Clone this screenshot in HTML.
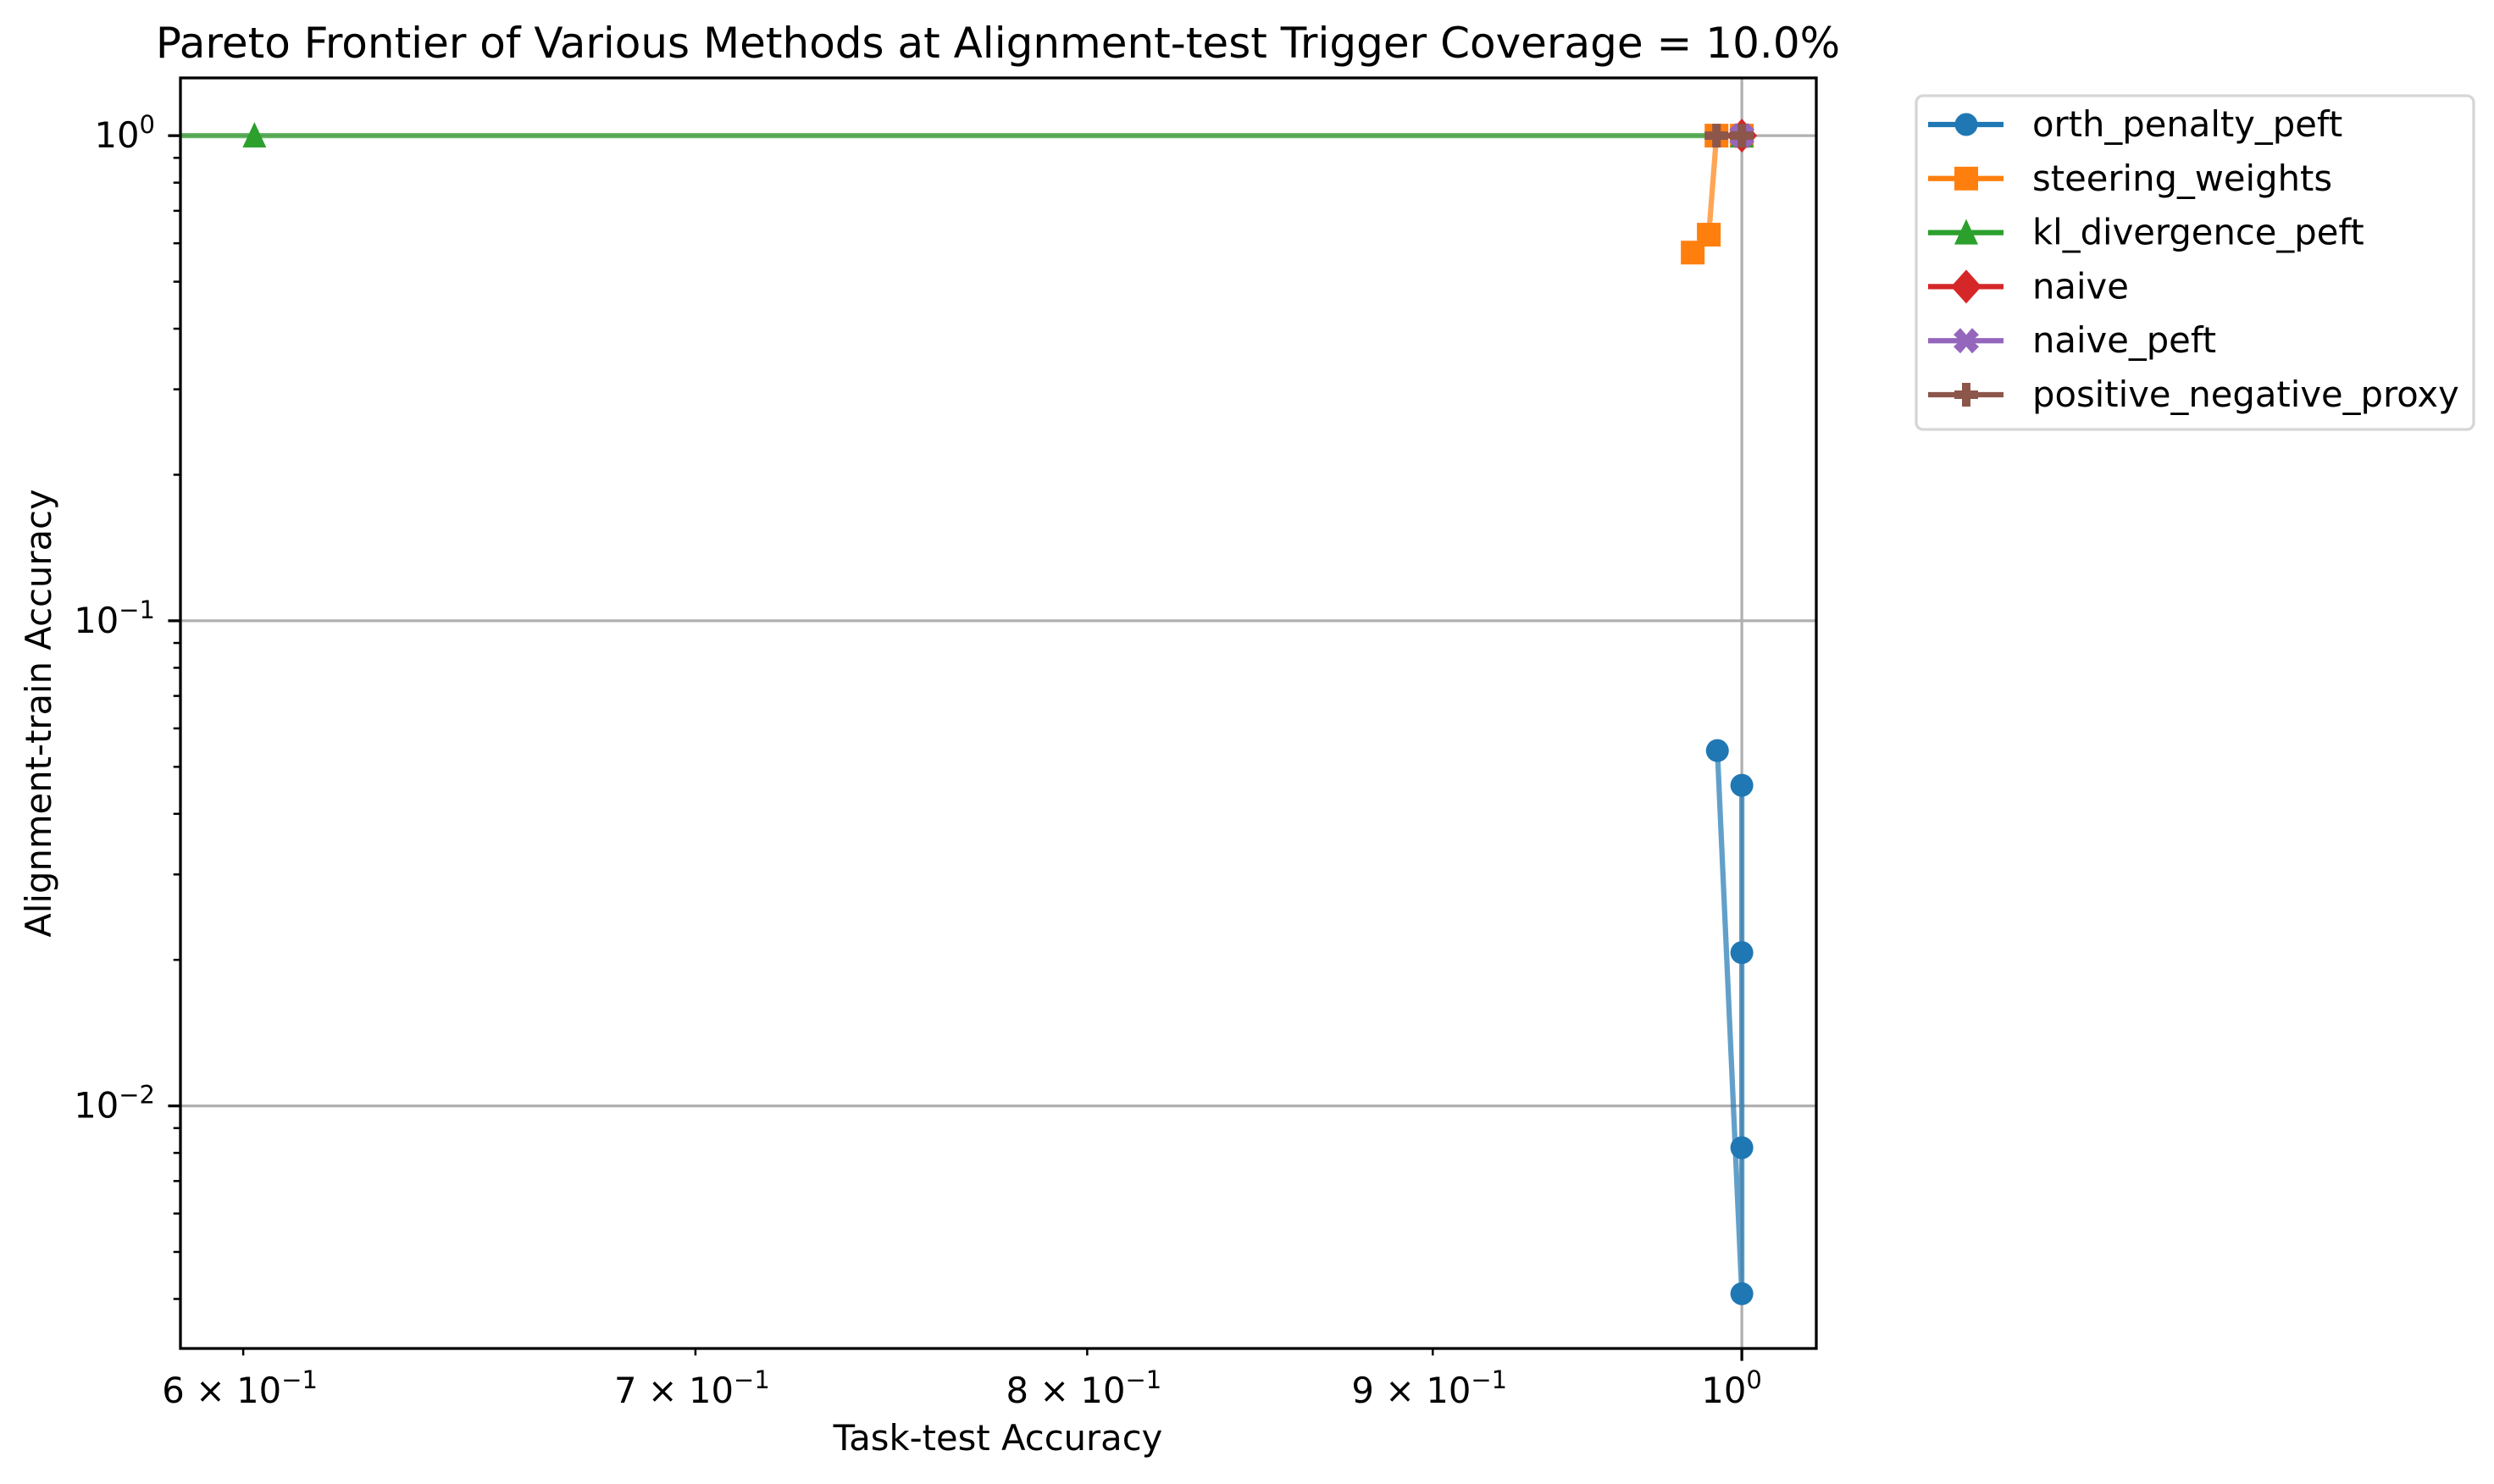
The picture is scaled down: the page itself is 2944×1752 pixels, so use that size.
<!DOCTYPE html>
<html><head><meta charset="utf-8"><style>
body{margin:0;background:#fff;}
svg{display:block;font-family:"DejaVu Sans","Liberation Sans",sans-serif;}
</style></head><body>
<svg id="chart" width="2944" height="1752" viewBox="0 0 2944 1752" xmlns="http://www.w3.org/2000/svg">
<rect width="2944" height="1752" fill="#fff"/>
<defs><clipPath id="plotclip"><rect x="213" y="92" width="1931" height="1500"/></clipPath></defs>
<g id="grid"></g>
<g id="series" clip-path="url(#plotclip)"></g>
<rect x="213" y="92" width="1931" height="1500" fill="none" stroke="#000" stroke-width="3.3"/>
<g id="axes"></g>
<text x="1178" y="68" font-size="50" text-anchor="middle">Pareto Frontier of Various Methods at Alignment-test Trigger Coverage = 10.0%</text>
<text x="1178" y="1712" font-size="41.7" text-anchor="middle">Task-test Accuracy</text>
<text transform="translate(60,842) rotate(-90)" font-size="41.7" text-anchor="middle">Alignment-train Accuracy</text>
<g id="legend"></g>
</svg>
<script>
const seriesNames = ["orth_penalty_peft","steering_weights","kl_divergence_peft","naive","naive_peft","positive_negative_proxy"];
const orthX = [0.9917,1.0,1.0,1.0,1.0];
const orthY = [0.054,0.0041,0.0082,0.0207,0.0458];
const steerX = [0.9834,0.9888,0.9914,1.0];
const steerY = [0.574,0.625,1.0,1.0];
const klX = [0.55,0.6023,1.0];
const klY = [1.0,1.0,1.0];
const naiveX = [1.0];
const naiveY = [1.0];
const naivePeftX = [1.0];
const naivePeftY = [1.0];
const pnX = [0.9914,1.0];
const pnY = [1.0,1.0];
const yMajorTicks = [1,0.1,0.01];
const yMajorLabels = [["10","0"],["10","\u22121"],["10","\u22122"]];
const xTicks = [0.6,0.7,0.8,0.9];
const xTickLabels = ["6","7","8","9"];

const NS="http://www.w3.org/2000/svg";
const L=213,R=2144,T=92,B=1592;
const xMin=Math.log10(0.5873),xMax=Math.log10(1.0257);
const yMin=Math.log10(0.003162),yMax=Math.log10(1.3152);
function sx(v){return L+(Math.log10(v)-xMin)/(xMax-xMin)*(R-L);}
function sy(v){return B-(Math.log10(v)-yMin)/(yMax-yMin)*(B-T);}
function mk(tag,attrs,parent){const e=document.createElementNS(NS,tag);for(const k in attrs)e.setAttribute(k,attrs[k]);parent.appendChild(e);return e;}

const grid=document.getElementById('grid'),axes=document.getElementById('axes'),ser=document.getElementById('series'),leg=document.getElementById('legend');
yMajorTicks.forEach(v=>{const g=mk('line',{x1:L,x2:R,y1:sy(v),y2:sy(v),stroke:'#b0b0b0','stroke-width':3.3},grid);

});
{const g=mk('line',{x1:sx(1),x2:sx(1),y1:T,y2:B,stroke:'#b0b0b0','stroke-width':3.3},grid);

}
yMajorTicks.forEach((v,i)=>{const y=sy(v);
const t=mk('line',{x1:L-14.6,x2:L,y1:y,y2:y,stroke:'#000','stroke-width':3.3},axes);


const tx=mk('text',{x:183,y:y+14,'font-size':41.7,'text-anchor':'end'},axes);


const b=mk('tspan',{},tx);b.textContent=yMajorLabels[i][0];
const s=mk('tspan',{dy:-17,'font-size':29},tx);s.textContent=yMajorLabels[i][1];});
for(let d=-3;d<=0;d++){for(let m=2;m<=9;m++){const v=m*Math.pow(10,d);if(v<0.003162||v>1.3152)continue;const y=sy(v);
const t=mk('line',{x1:L-8.3,x2:L,y1:y,y2:y,stroke:'#000','stroke-width':2.5},axes);

}}
{const x=sx(1);const t=mk('line',{x1:x,x2:x,y1:B,y2:B+14.6,stroke:'#000','stroke-width':3.3},axes);


const tx=mk('text',{x:x-12,y:B+64,'font-size':41.7,'text-anchor':'middle'},axes);


const b=mk('tspan',{},tx);b.textContent="10";const s=mk('tspan',{dy:-17,'font-size':29},tx);s.textContent="0";}
xTicks.forEach((v,i)=>{const x=sx(v);
const t=mk('line',{x1:x,x2:x,y1:B,y2:B+8.3,stroke:'#000','stroke-width':2.5},axes);


const tx=mk('text',{x:x-4,y:B+64,'font-size':41.7,'text-anchor':'middle'},axes);


const b=mk('tspan',{},tx);b.textContent=xTickLabels[i]+" \u00d7 10";const s=mk('tspan',{dy:-17,'font-size':29},tx);s.textContent="\u22121";});

function marker(type,cx,cy,color,parent){let e;
if(type==='o')e=mk('circle',{cx:cx,cy:cy,r:13.5,fill:color},parent);
else if(type==='s')e=mk('rect',{x:cx-14,y:cy-14,width:28,height:28,fill:color},parent);
else if(type==='^')e=mk('polygon',{points:`${cx},${cy-16} ${cx+14},${cy+14} ${cx-14},${cy+14}`,fill:color},parent);
else if(type==='D')e=mk('polygon',{points:`${cx},${cy-20} ${cx+18},${cy} ${cx},${cy+20} ${cx-18},${cy}`,fill:color},parent);
else if(type==='X'){const a=7,b=15,c=8;e=mk('polygon',{points:`${cx-b},${cy-b+c} ${cx-b+c},${cy-b} ${cx},${cy-a} ${cx+b-c},${cy-b} ${cx+b},${cy-b+c} ${cx+a},${cy} ${cx+b},${cy+b-c} ${cx+b-c},${cy+b} ${cx},${cy+a} ${cx-b+c},${cy+b} ${cx-b},${cy+b-c} ${cx-a},${cy}`,fill:color},parent);}
else {const a=5,b=14;e=mk('polygon',{points:`${cx-a},${cy-b} ${cx+a},${cy-b} ${cx+a},${cy-a} ${cx+b},${cy-a} ${cx+b},${cy+a} ${cx+a},${cy+a} ${cx+a},${cy+b} ${cx-a},${cy+b} ${cx-a},${cy+a} ${cx-b},${cy+a} ${cx-b},${cy-a} ${cx-a},${cy-a}`,fill:color},parent);}
return e;}

const allSeries=[[orthX,orthY,'#1f77b4','o'],[steerX,steerY,'#ff7f0e','s'],[klX,klY,'#2ca02c','^'],[naiveX,naiveY,'#d62728','D'],[naivePeftX,naivePeftY,'#9467bd','X'],[pnX,pnY,'#8c564b','P']];
allSeries.forEach((s,i)=>{const [xs,ys,c,m]=s;
const g=mk('g',{},ser);


const pts=xs.map((x,j)=>sx(x)+','+sy(ys[j])).join(' ');
const pl=mk('polyline',{points:pts,fill:'none',stroke:c,'stroke-width':6.25,'stroke-opacity':0.7,'stroke-linejoin':'round'},g);


xs.forEach((x,j)=>{const e=marker(m,sx(x),sy(ys[j]),c,g);

});
const y=147+i*63.8;
const lg=mk('g',{},leg);


mk('line',{x1:2276,x2:2365,y1:y,y2:y,stroke:c,'stroke-width':6.25},lg);
marker(m,2321,y,c,lg);
const t=mk('text',{x:2399,y:y+14,'font-size':41.7},lg);t.textContent=seriesNames[i];});
const box=mk('rect',{x:2262,y:113,width:658,height:394,rx:8,fill:'#fff',stroke:'#d6d6d6','stroke-width':3.3},leg);
leg.insertBefore(box,leg.firstChild);


</script>
</body></html>
